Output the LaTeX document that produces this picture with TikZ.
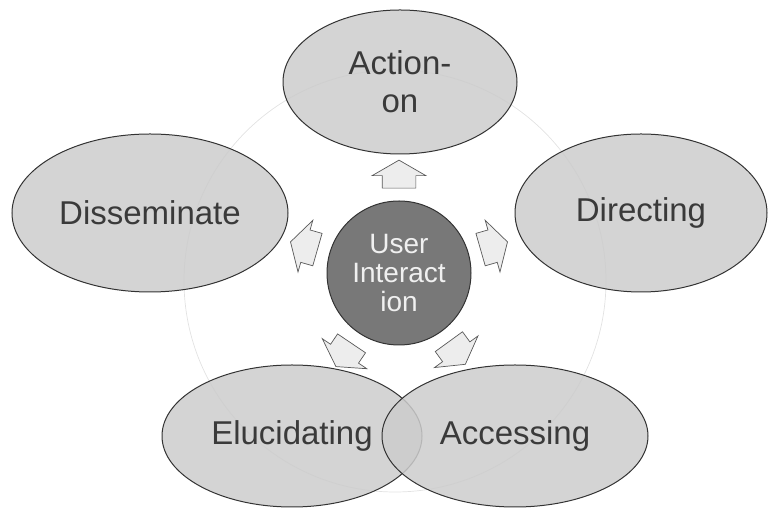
\documentclass[tikz,border=0pt]{standalone}
\usepackage{fontspec}
\setmainfont{Liberation Sans}
\usetikzlibrary{shapes.geometric,shapes.arrows}
\definecolor{ringgray}{RGB}{226,226,226}
\definecolor{petalgray}{RGB}{204,204,204}
\definecolor{hubgray}{RGB}{120,120,120}
\definecolor{inkgray}{RGB}{58,58,58}
\begin{document}
\begin{tikzpicture}
	[x=1pt,y=1pt,
	petal/.style={ellipse,draw=black!80,line width=1pt,fill=petalgray,fill opacity=0.85,text opacity=1,text=inkgray,inner sep=0pt,font=\fontsize{33}{38}\selectfont,align=center},
	hub/.style={circle,draw=black!80,line width=1pt,fill=hubgray,text=white!94!black,minimum size=144pt,inner sep=0pt,font=\fontsize{28}{29}\selectfont,align=center},
	blockarrow/.style={single arrow,draw=black!65,line width=0.7pt,fill=white!93!black,minimum height=28pt,inner xsep=0pt,inner ysep=16.5pt,single arrow head extend=10pt,single arrow tip angle=120}]
	\useasboundingbox (0,0) rectangle (771,508);
	% faint ring behind everything
	\draw[ringgray,line width=0.7pt](395,227) circle (211);
	\node[petal,minimum width=234pt,minimum height=144pt,name=act] at (400,426) {Action-\\on};
	\node[petal,minimum width=252pt,minimum height=158pt,name=dir] at (641,295) {Directing};
	\node[petal,minimum width=276pt,minimum height=158pt,name=dis] at (150,295) {Disseminate};
	\node[petal,minimum width=260pt,minimum height=142pt,name=elu] at (292,72) {Elucidating};
	\node[petal,minimum width=266pt,minimum height=142pt,name=acc] at (515,72) {Accessing};
	\node[hub,name=user] at (399,235) {User\\Interact\\ion};
	% arrows from the hub
	\foreach \ang [count=\i] in {90,16,-54,-124,164}
		\node[blockarrow,rotate=\ang,name=arr\i] at ([shift={(\ang:94)}]user.center) {};
\end{tikzpicture}
\end{document}
